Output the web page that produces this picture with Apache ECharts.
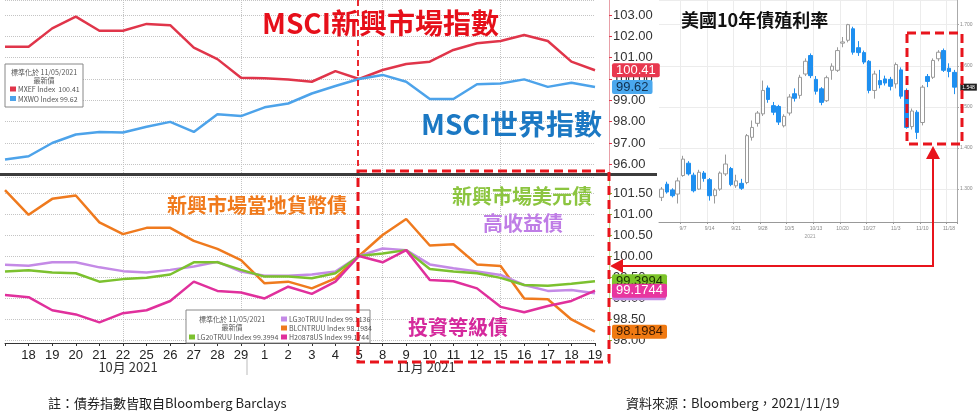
<!DOCTYPE html>
<html>
<head>
<meta charset="utf-8">
<script src="https://cdn.jsdelivr.net/npm/echarts@6/dist/echarts.min.js"></script>
<style>
  html, body { margin: 0; padding: 0; background: #fff; }
  #chart { width: 978px; height: 413px; }
</style>
</head>
<body>
<div id="chart"></div>
<script>
  // trading days, 2021/10/15 .. 2021/11/19
  const days = ['15', '18', '19', '20', '21', '22', '25', '26', '27', '28', '29', '1', '2', '3', '4', '5', '8', '9', '10', '11', '12', '15', '16', '17', '18', '19']
  const weekLines = [5, 10, 16, 21]

  // equity indices, normalised at 11/05/2021
  const mxef = [101.51, 101.51, 102.37, 102.92, 102.26, 102.26, 102.58, 102.52, 101.47, 100.93, 100.06, 100.03, 99.98, 99.87, 100.37, 100.00, 100.42, 100.70, 100.81, 101.36, 101.67, 101.78, 102.06, 101.78, 100.81, 100.41]
  const mxwo = [96.23, 96.38, 97.00, 97.40, 97.52, 97.49, 97.76, 97.99, 97.52, 98.35, 98.26, 98.67, 98.85, 99.32, 99.67, 100.00, 100.19, 99.87, 99.06, 99.06, 99.75, 99.79, 99.98, 99.63, 99.82, 99.62]

  // bond indices, normalised at 11/05/2021
  const blcntruu = [101.57, 100.98, 101.36, 101.44, 100.80, 100.52, 100.67, 100.67, 100.36, 100.17, 99.90, 99.35, 99.39, 99.23, 99.47, 100.00, 100.50, 100.88, 100.25, 100.28, 99.80, 99.76, 98.99, 98.97, 98.49, 98.1984]
  const lg30truu = [99.79, 99.77, 99.85, 99.85, 99.73, 99.64, 99.61, 99.67, 99.75, 99.86, 99.63, 99.53, 99.53, 99.56, 99.63, 100.00, 100.18, 100.14, 99.80, 99.71, 99.63, 99.55, 99.31, 99.17, 99.19, 99.1136]
  const lg20truu = [99.63, 99.66, 99.61, 99.59, 99.39, 99.45, 99.48, 99.56, 99.85, 99.85, 99.67, 99.51, 99.51, 99.47, 99.59, 100.00, 100.06, 100.14, 99.69, 99.63, 99.59, 99.48, 99.31, 99.29, 99.34, 99.3994]
  const h20878us = [99.07, 99.02, 98.71, 98.61, 98.42, 98.64, 98.71, 98.93, 99.39, 99.17, 99.13, 98.99, 99.27, 99.10, 99.39, 100.00, 99.85, 100.14, 99.43, 99.40, 99.23, 98.79, 98.66, 98.81, 98.93, 99.1744]

  // US 10y yield, daily
  const candleDates = ['8/31', '9/1', '9/2', '9/3', '9/7', '9/8', '9/9', '9/10', '9/13', '9/14', '9/15', '9/16', '9/17', '9/20', '9/21', '9/22', '9/23', '9/24', '9/27', '9/28', '9/29', '9/30', '10/1', '10/4', '10/5', '10/6', '10/7', '10/8', '10/12', '10/13', '10/14', '10/15', '10/18', '10/19', '10/20', '10/21', '10/22', '10/25', '10/26', '10/27', '10/28', '10/29', '11/1', '11/2', '11/3', '11/4', '11/5', '11/8', '11/9', '11/10', '11/12', '11/15', '11/16', '11/17', '11/18', '11/19']
  const candleOpen = [1.280, 1.312, 1.298, 1.288, 1.333, 1.363, 1.334, 1.300, 1.339, 1.323, 1.284, 1.300, 1.337, 1.350, 1.308, 1.314, 1.316, 1.426, 1.460, 1.483, 1.546, 1.503, 1.501, 1.454, 1.485, 1.532, 1.528, 1.580, 1.625, 1.567, 1.544, 1.515, 1.589, 1.589, 1.655, 1.662, 1.690, 1.644, 1.632, 1.611, 1.540, 1.564, 1.568, 1.567, 1.556, 1.590, 1.540, 1.452, 1.487, 1.462, 1.574, 1.572, 1.617, 1.637, 1.594, 1.584]
  const candleClose = [1.300, 1.293, 1.284, 1.320, 1.373, 1.337, 1.296, 1.341, 1.326, 1.284, 1.298, 1.339, 1.361, 1.311, 1.320, 1.302, 1.430, 1.450, 1.485, 1.540, 1.518, 1.487, 1.463, 1.477, 1.524, 1.521, 1.572, 1.611, 1.576, 1.538, 1.511, 1.571, 1.599, 1.637, 1.658, 1.700, 1.633, 1.632, 1.609, 1.540, 1.580, 1.554, 1.558, 1.550, 1.603, 1.526, 1.450, 1.490, 1.438, 1.548, 1.562, 1.613, 1.633, 1.589, 1.586, 1.548]
  const candleLow = [1.271, 1.289, 1.280, 1.265, 1.330, 1.333, 1.292, 1.298, 1.318, 1.272, 1.265, 1.296, 1.332, 1.307, 1.303, 1.298, 1.312, 1.418, 1.452, 1.478, 1.510, 1.480, 1.456, 1.450, 1.479, 1.513, 1.520, 1.575, 1.570, 1.530, 1.504, 1.512, 1.566, 1.585, 1.645, 1.657, 1.627, 1.624, 1.604, 1.533, 1.520, 1.545, 1.552, 1.540, 1.545, 1.520, 1.447, 1.445, 1.422, 1.455, 1.548, 1.568, 1.611, 1.585, 1.572, 1.531]
  const candleHigh = [1.305, 1.318, 1.302, 1.328, 1.381, 1.368, 1.340, 1.347, 1.344, 1.327, 1.302, 1.343, 1.384, 1.354, 1.335, 1.325, 1.434, 1.467, 1.490, 1.564, 1.552, 1.512, 1.505, 1.482, 1.531, 1.545, 1.578, 1.618, 1.630, 1.575, 1.548, 1.576, 1.606, 1.645, 1.670, 1.702, 1.695, 1.660, 1.637, 1.614, 1.588, 1.590, 1.576, 1.573, 1.608, 1.596, 1.545, 1.496, 1.492, 1.553, 1.580, 1.618, 1.638, 1.642, 1.606, 1.590]

  const CJK = '"Noto Sans CJK TC", "Noto Sans", sans-serif'
  const LAT = '"Liberation Sans", Arial, sans-serif'
  const RED = '#e8141c'

  const last = (arr) => arr[arr.length - 1]

  function lineSeries(name, data, color, axis, tag) {
    return {
      name,
      type: 'line',
      xAxisIndex: axis,
      yAxisIndex: axis,
      data,
      symbol: 'none',
      lineStyle: { color, width: 2.5 },
      itemStyle: { color },
      endLabel: {
        show: true,
        formatter: () => last(data).toFixed(tag.digits),
        distance: 17,
        backgroundColor: tag.bg,
        color: tag.text,
        fontFamily: LAT,
        fontSize: 13,
        padding: [1, 4, 0, 4],
        borderRadius: 2
      }
    }
  }

  function bigText(text, x, y, size, fill, weight) {
    return {
      type: 'text',
      z: 50,
      style: {
        text, x, y, fill,
        fontSize: size,
        fontFamily: CJK,
        fontWeight: weight || 'bold',
        verticalAlign: 'middle',
        textVerticalAlign: 'middle'
      }
    }
  }

  function smallText(text, x, y, align) {
    return {
      type: 'text',
      z: 60,
      style: {
        text, x, y,
        fill: '#555',
        fontSize: 7,
        fontFamily: CJK,
        align: align || 'left',
        textAlign: align || 'left',
        verticalAlign: 'middle',
        textVerticalAlign: 'middle'
      }
    }
  }

  function swatch(x, y, color) {
    return { type: 'rect', z: 60, shape: { x, y, width: 6, height: 5 }, style: { fill: color } }
  }

  const dashRed = { stroke: RED, lineWidth: 3, lineDash: [9, 5], fill: null }

  const chart = echarts.init(document.getElementById('chart'), null, { renderer: 'canvas' })

  const gridSplit = {
    show: true,
    interval: (index) => weekLines.includes(index),
    lineStyle: { color: '#c4c4c4', type: 'dotted', width: 1 }
  }

  chart.setOption({
    animation: false,
    backgroundColor: '#fff',
    grid: [
      { left: 5, top: 0, width: 590, height: 175 },
      { left: 5, top: 177, width: 590, height: 166 },
      { left: 659, top: 0, width: 298, height: 222 }
    ],
    xAxis: [
      {
        gridIndex: 0,
        type: 'category',
        data: days,
        boundaryGap: false,
        axisLine: { show: false },
        axisTick: { show: false },
        axisLabel: { show: false },
        splitLine: gridSplit
      },
      {
        gridIndex: 1,
        type: 'category',
        data: days,
        boundaryGap: false,
        axisLine: { lineStyle: { color: '#333', width: 1 } },
        axisTick: { show: true, length: 3, lineStyle: { color: '#333' } },
        axisLabel: {
          interval: 0,
          formatter: (v, i) => (i === 0 ? '' : v),
          color: '#222',
          fontSize: 13,
          fontFamily: LAT,
          margin: 6
        },
        splitLine: gridSplit
      },
      {
        gridIndex: 2,
        type: 'category',
        data: candleDates,
        boundaryGap: true,
        axisLine: { lineStyle: { color: '#999' } },
        axisTick: { show: true, length: 2, interval: (i) => i % 5 === 4, lineStyle: { color: '#999' } },
        axisLabel: {
          interval: (i) => i % 5 === 4,
          color: '#888',
          fontSize: 5,
          fontFamily: LAT,
          margin: 4
        },
        splitLine: {
          show: true,
          interval: (i) => i % 5 === 4,
          lineStyle: { color: '#ececec', width: 1 }
        }
      }
    ],
    yAxis: [
      {
        gridIndex: 0,
        type: 'value',
        position: 'right',
        offset: 14,
        min: 95.5,
        max: 103.7,
        splitNumber: 8,
        axisLine: { show: true, lineStyle: { color: '#e8a0a8' } },
        axisTick: { show: true, length: 3, lineStyle: { color: '#e0354a' } },
        axisLabel: {
          showMinLabel: false,
          showMaxLabel: false,
          formatter: (v) => v.toFixed(2),
          color: '#333',
          fontSize: 13,
          fontFamily: LAT,
          margin: 4
        },
        splitLine: { show: true, lineStyle: { color: '#c4c4c4', type: 'dotted' } }
      },
      {
        gridIndex: 1,
        type: 'value',
        position: 'right',
        offset: 14,
        min: 97.93,
        max: 101.88,
        splitNumber: 8,
        axisLine: { show: true, lineStyle: { color: '#b8dc90' } },
        axisTick: { show: true, length: 3, lineStyle: { color: '#7cc12f' } },
        axisLabel: {
          showMinLabel: false,
          showMaxLabel: false,
          formatter: (v) => v.toFixed(2),
          color: '#333',
          fontSize: 13,
          fontFamily: LAT,
          margin: 4
        },
        splitLine: { show: true, lineStyle: { color: '#c4c4c4', type: 'dotted' } }
      },
      {
        gridIndex: 2,
        type: 'value',
        position: 'right',
        min: 1.22,
        max: 1.76,
        splitNumber: 5,
        axisLine: { show: true, lineStyle: { color: '#aaa' } },
        axisTick: { show: true, length: 2, lineStyle: { color: '#aaa' } },
        axisLabel: {
          showMinLabel: false,
          showMaxLabel: false,
          formatter: (v) => v.toFixed(3),
          color: '#888',
          fontSize: 5,
          fontFamily: LAT,
          margin: 3
        },
        splitLine: { show: true, lineStyle: { color: '#ececec' } }
      }
    ],
    series: [
      lineSeries('MXEF Index', mxef, '#e0354a', 0, { digits: 2, bg: '#e8384f', text: '#fff' }),
      lineSeries('MXWO Index', mxwo, '#4da3ea', 0, { digits: 2, bg: '#4aa8ee', text: '#10304f' }),
      lineSeries('BLCNTRUU Index', blcntruu, '#ef7a1e', 1, { digits: 4, bg: '#f07a12', text: '#3a1a00' }),
      lineSeries('LG30TRUU Index', lg30truu, '#c48ae6', 1, { digits: 4, bg: '#c48ae6', text: '#2a1040' }),
      lineSeries('LG20TRUU Index', lg20truu, '#7cc12f', 1, { digits: 4, bg: '#7dc52a', text: '#1a3300' }),
      lineSeries('H20878US Index', h20878us, '#e0309c', 1, { digits: 4, bg: '#e8359f', text: '#fff' }),
      {
        name: 'US 10Y',
        type: 'candlestick',
        xAxisIndex: 2,
        yAxisIndex: 2,
        barWidth: 4,
        data: candleDates.map((_, i) => [candleOpen[i], candleClose[i], candleLow[i], candleHigh[i]]),
        itemStyle: {
          color: '#ffffff',
          color0: '#1e8ff0',
          borderColor: '#9a9a9a',
          borderColor0: '#1e8ff0',
          borderWidth: 1
        },
        markPoint: {
          symbol: 'rect',
          symbolSize: 0,
          data: [{ coord: [last(candleDates), last(candleClose)] }],
          label: {
            show: true,
            formatter: () => last(candleClose).toFixed(3),
            position: 'right',
            distance: 6,
            backgroundColor: '#222',
            color: '#fff',
            fontSize: 5,
            fontFamily: LAT,
            padding: [1, 2]
          }
        }
      }
    ],
    graphic: [
      // divider between the two left panels
      { type: 'line', z: 40, shape: { x1: 0, y1: 174.5, x2: 657, y2: 174.5 }, style: { stroke: '#3c3c3c', lineWidth: 3 } },

      // titles
      bigText('MSCI新興市場指數', 262, 23, 28, '#e60f1a'),
      bigText('MSCI世界指數', 421, 124, 28, '#1b78c3'),
      bigText('新興市場當地貨幣債', 167, 205, 20, '#f07a1c'),
      bigText('新興市場美元債', 452, 196, 20, '#8cc540'),
      bigText('高收益債', 483, 223, 20, '#bf7de6'),
      bigText('投資等級債', 408, 327, 20, '#d5299c'),
      bigText('美國10年債殖利率', 681, 20, 18, '#111'),

      // month labels under the bottom axis
      { type: 'text', style: { text: '10月 2021', x: 128, y: 367, fill: '#333', fontSize: 13, fontFamily: CJK, align: 'center', textAlign: 'center', verticalAlign: 'middle', textVerticalAlign: 'middle' } },
      { type: 'text', style: { text: '11月 2021', x: 426, y: 367, fill: '#333', fontSize: 13, fontFamily: CJK, align: 'center', textAlign: 'center', verticalAlign: 'middle', textVerticalAlign: 'middle' } },
      { type: 'line', shape: { x1: 247, y1: 357, x2: 247, y2: 375 }, style: { stroke: '#bbb', lineWidth: 1 } },
      { type: 'text', style: { text: '2021', x: 810, y: 234, fill: '#999', fontSize: 5, fontFamily: LAT, align: 'center', textAlign: 'center' } },

      // legend, top panel
      { type: 'rect', z: 59, shape: { x: 5, y: 64, width: 78, height: 43 }, style: { fill: '#fff', stroke: '#888', lineWidth: 1 } },
      smallText('標準化於 11/05/2021', 44, 72.5, 'center'),
      smallText('最新價', 44, 80.5, 'center'),
      swatch(10, 86.5, '#e0354a'),
      smallText('MXEF Index  ' + last(mxef).toFixed(2), 18, 89.5),
      swatch(10, 96, '#4da3ea'),
      smallText('MXWO Index ' + last(mxwo).toFixed(2), 18, 99),

      // legend, bottom panel
      { type: 'rect', z: 59, shape: { x: 186, y: 310, width: 184, height: 33 }, style: { fill: '#fff', stroke: '#888', lineWidth: 1 } },
      smallText('標準化於 11/05/2021', 232, 319, 'center'),
      smallText('最新價', 232, 327.5, 'center'),
      swatch(189, 334.5, '#7cc12f'),
      smallText('LG20TRUU Index ' + last(lg20truu).toFixed(4), 197, 337),
      swatch(281, 316.5, '#c48ae6'),
      smallText('LG30TRUU Index ' + last(lg30truu).toFixed(4), 289, 319),
      swatch(281, 325.5, '#ef7a1e'),
      smallText('BLCNTRUU Index ' + last(blcntruu).toFixed(4), 289, 328),
      swatch(281, 334.5, '#e0309c'),
      smallText('H20878US Index ' + last(h20878us).toFixed(4), 289, 337),

      // red annotations
      { type: 'line', z: 70, shape: { x1: 358, y1: 0, x2: 358, y2: 171 }, style: { stroke: RED, lineWidth: 1.8, lineDash: [6, 4] } },
      { type: 'rect', z: 70, shape: { x: 358, y: 171, width: 251, height: 191 }, style: dashRed },
      { type: 'rect', z: 70, shape: { x: 907, y: 33, width: 55, height: 111 }, style: dashRed },
      { type: 'polyline', z: 70, shape: { points: [[933, 156], [933, 266], [620, 266]] }, style: { stroke: RED, lineWidth: 2, fill: null } },
      { type: 'polygon', z: 70, shape: { points: [[933, 146], [926, 159], [940, 159]] }, style: { fill: RED } },
      { type: 'polygon', z: 70, shape: { points: [[610, 266], [623, 259], [623, 273]] }, style: { fill: RED } },

      // footnotes
      { type: 'text', style: { text: '註：債券指數皆取自Bloomberg Barclays', x: 48, y: 403, fill: '#222', fontSize: 13, fontFamily: CJK, verticalAlign: 'middle', textVerticalAlign: 'middle' } },
      { type: 'text', style: { text: '資料來源：Bloomberg，2021/11/19', x: 626, y: 403, fill: '#222', fontSize: 13, fontFamily: CJK, verticalAlign: 'middle', textVerticalAlign: 'middle' } }
    ]
  })
</script>
</body>
</html>
